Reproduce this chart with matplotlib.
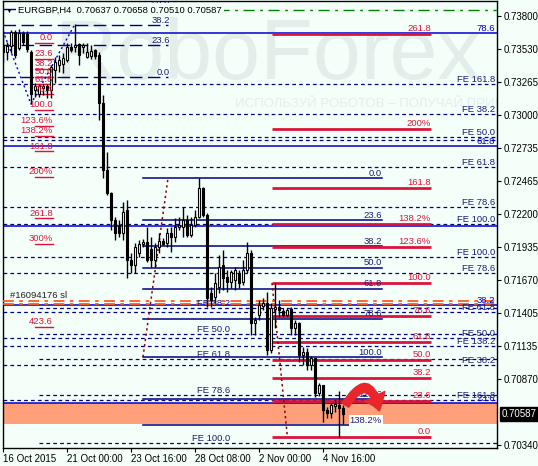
import matplotlib
matplotlib.use('Agg')
import matplotlib.pyplot as plt
from matplotlib.patches import Rectangle, FancyArrowPatch
import matplotlib.transforms as mtransforms

# ---------------- data ----------------
opens = [0.73566,0.73509,0.73558,0.73671,0.73542,0.73663,0.73655,0.73509,0.73203,0.73170,
         0.73219,0.73235,0.73203,0.73364,0.73404,0.73413,0.73445,0.73550,0.73550,0.73574,
         0.73550,0.73469,0.73477,0.73525,0.73485,0.73098,0.72557,0.72371,0.72154,0.72113,
         0.72049,0.72234,0.71831,0.71790,0.71887,0.71960,0.71976,0.71920,0.71831,0.71936,
         0.71984,0.71968,0.72049,0.72016,0.72097,0.72097,0.72154,0.72033,0.72113,0.72178,
         0.72412,0.72194,0.71565,0.71532,0.71613,0.71790,0.71694,0.71653,0.71669,0.71726,
         0.71653,0.71750,0.71887,0.71322,0.71387,0.71460,0.71484,0.71104,0.71435,0.71451,
         0.71419,0.71387,0.71435,0.71282,0.71322,0.71064,0.71088,0.70983,0.71040,0.70757,
         0.70822,0.70620,0.70596,0.70652,0.70660,0.70637]
highs = [0.73679,0.73590,0.73687,0.73687,0.73695,0.73679,0.73679,0.73525,0.73259,0.73251,
         0.73251,0.73251,0.73404,0.73469,0.73485,0.73501,0.73582,0.73582,0.73735,0.73582,
         0.73582,0.73582,0.73566,0.73534,0.73509,0.73162,0.72702,0.72379,0.72178,0.72154,
         0.72299,0.72315,0.71887,0.71968,0.71992,0.72000,0.72097,0.72016,0.71968,0.72049,
         0.72008,0.72089,0.72097,0.72170,0.72178,0.72258,0.72194,0.72178,0.72234,0.72492,
         0.72420,0.72210,0.71613,0.71726,0.71871,0.71912,0.71750,0.71750,0.71774,0.71750,
         0.71831,0.71976,0.71912,0.71371,0.71508,0.71524,0.71573,0.71484,0.71645,0.71508,
         0.71443,0.71443,0.71451,0.71346,0.71330,0.71129,0.71121,0.71056,0.71040,0.70838,
         0.70822,0.70644,0.70677,0.70701,0.70773,0.70658]
lows = [0.73429,0.73445,0.73501,0.73461,0.73525,0.73566,0.73509,0.73090,0.73146,0.73146,
        0.73162,0.73138,0.73138,0.73259,0.73348,0.73340,0.73429,0.73509,0.73509,0.73404,
        0.73501,0.73461,0.73453,0.73453,0.72961,0.72492,0.72355,0.72073,0.71992,0.72016,
        0.71992,0.71686,0.71726,0.71726,0.71855,0.71936,0.71815,0.71774,0.71774,0.71887,
        0.71952,0.71936,0.71895,0.71976,0.72073,0.72016,0.72016,0.72016,0.72097,0.72170,
        0.72178,0.71451,0.71451,0.71484,0.71565,0.71589,0.71573,0.71605,0.71589,0.71605,
        0.71629,0.71726,0.71225,0.71225,0.71346,0.71427,0.71064,0.71080,0.71282,0.71371,
        0.71371,0.71371,0.71225,0.71225,0.71007,0.70983,0.70943,0.70943,0.70725,0.70733,
        0.70523,0.70555,0.70555,0.70604,0.70402,0.70510]
closes = [0.73509,0.73558,0.73671,0.73485,0.73663,0.73590,0.73534,0.73170,0.73235,0.73235,
          0.73235,0.73203,0.73388,0.73429,0.73445,0.73461,0.73550,0.73525,0.73566,0.73485,
          0.73566,0.73509,0.73517,0.73477,0.73098,0.72557,0.72371,0.72154,0.72049,0.72049,
          0.72218,0.71831,0.71790,0.71936,0.71960,0.71976,0.71831,0.71831,0.71936,0.71984,
          0.71960,0.72049,0.72016,0.72097,0.72113,0.72154,0.72033,0.72113,0.72178,0.72412,
          0.72194,0.71524,0.71508,0.71645,0.71774,0.71686,0.71653,0.71734,0.71750,0.71645,
          0.71750,0.71887,0.71322,0.71346,0.71468,0.71484,0.71104,0.71443,0.71451,0.71427,
          0.71387,0.71427,0.71282,0.71322,0.71064,0.71088,0.70983,0.71040,0.70757,0.70822,
          0.70620,0.70596,0.70660,0.70668,0.70636,0.70587]

x_tick_bars = [0, 16, 32, 48, 64, 80]
x_tick_labels = ['16 Oct 2015', '21 Oct 00:00', '23 Oct 16:00', '28 Oct 08:00', '2 Nov 00:00', '4 Nov 16:00']
price_ticks = [0.73800, 0.73530, 0.73265, 0.73000, 0.72735, 0.72465, 0.72200, 0.71935,
               0.71670, 0.71405, 0.71135, 0.70870, 0.70340]
last_price = 0.70587
title = 'EURGBP,H4  0.70637 0.70658 0.70510 0.70587'

# Fibonacci tool 1 (small red expansion, upper left)
fib1_p0, fib1_p100 = 0.73582, 0.73041
fib1_levels = [0, 23.6, 38.2, 50, 61.8, 76.4, 100, 123.6, 138.2, 161.8, 200, 261.8, 300, 423.6]
fib1_labels = ['0.0', '23.6', '38.2', '50.0', '61.8', '76.4', '100.0', '123.6%', '138.2%',
               '161.8', '200%', '261.8', '300%', '423.6']
fib1_path_bars = [0, 7, 18]
fib1_path_prices = [0.73679, 0.73090, 0.73735]

# Fibonacci tool 2 (blue, middle)
fib2_p0, fib2_p100 = 0.72492, 0.71048
fib2_levels = [0, 23.6, 38.2, 50, 61.8, 78.6, 100, 123.6, 138.2]
fib2_labels = ['0.0', '23.6', '38.2', '50.0', '61.8', '78.6', '100.0', '123.6', '138.2%']
fib2_path_bars = [35, 41.25]

# Fibonacci tool 3 (red, right)
fib3_p0, fib3_p100 = 0.70402, 0.71645
fib3_levels = [0, 23.6, 38.2, 50, 61.8, 78.6, 100, 123.6, 138.2, 161.8, 200, 261.8]
fib3_labels = ['0.0', '23.6', '38.2', '50.0', '61.8', '78.6', '100.0', '123.6%', '138.2%',
               '161.8', '200%', '261.8']
fib3_path_bars = [67.25, 71.1]

# Fibonacci tool 4 (wide blue retracement); the 50.0 label sits hidden under "FE 100.0"
fib4_p0, fib4_p100 = 0.69393, 0.74825
fib4_levels = [23.6, 38.2, 50, 61.8, 78.6]
fib4_labels = ['23.6', '38.2', '', '61.8', '78.6']

# Fibonacci tool 5 (long-dash retracement, upper left)
fib5_p0, fib5_p100 = 0.73308, 0.74402
fib5_levels = [0, 23.6, 38.2, 50]
fib5_labels = ['0.0', '23.6', '38.2', '50.0']

# Fibonacci expansion lines, labels on the right
fe_right_prices = [0.73251, 0.73009, 0.72823, 0.72799, 0.72581, 0.72258, 0.72121,
                   0.71855, 0.71726, 0.71411, 0.71201, 0.71137, 0.70983, 0.70701]
fe_right_labels = ['FE 161.8', 'FE 38.2', 'FE 50.0', '', 'FE 61.8', 'FE 78.6', 'FE 100.0',
                   'FE 100.0', 'FE 78.6', 'FE 61.8', 'FE 50.0', 'FE 138.2', 'FE 38.2', 'FE 161.8']
# Fibonacci expansion lines, labels in the middle
fe_mid_prices = [0.71443, 0.71234, 0.71032, 0.70741, 0.70354]
fe_mid_labels = ['FE 38.2', 'FE 50.0', 'FE 61.8', 'FE 78.6', 'FE 100.0']

sl_prices = [0.71500, 0.71476]
sl_label = '#16094176 sl'
tp_price = 0.73848
zone_low, zone_high = 0.70507, 0.70677

# ---------------- style ----------------
BG = '#F5FFFA'
NAVY = '#000080'
NAVY_T = '#1C1C78'
BLUE = '#0000CD'
RED = '#DC143C'
FS = 6.8
FONT = 'Liberation Sans'
plt.rcParams['font.family'] = [FONT, 'DejaVu Sans']

W, H = 538, 466
fig = plt.figure(figsize=(W / 100, H / 100), dpi=100, facecolor=BG)
L, R, T, B = 3, 497, 1, 448
ax = fig.add_axes([L / W, (H - B) / H, (R - L) / W, (B - T) / H], facecolor=BG)
XMAX = (R - L) / 4.0
ax.set_xlim(0, XMAX)
ax.set_ylim(0.703135, 0.739209)

def px2bar(px):
    return (px - L) / 4.0

# watermark
ax.text(px2bar(268), 0.73929 - 57 * 0.0000807, 'RoboForex', fontsize=62, color='#E3EEEB',
        ha='center', va='center', zorder=0, family=FONT)
ax.text(px2bar(235), 0.73929 - 104 * 0.0000807, 'ИСПОЛЬЗУЙ РОБОТОВ – ПОЛУЧАЙ ПРИБЫЛЬ',
        fontsize=9.5, color='#E3EEEB', ha='left', va='center', zorder=0, family=FONT, clip_on=True)

def lab(x, p, s, color, dy=0.3, ha='right', fs=FS, bbox=None, z=8):
    if not s:
        return
    ax.annotate(s, (x, p), xytext=(0, dy), textcoords='offset points', ha=ha, va='bottom',
                color=color, fontsize=fs, zorder=z, annotation_clip=False, bbox=bbox)

# zone rectangle
ax.add_patch(Rectangle((0, zone_low), XMAX, zone_high - zone_low, facecolor='#FFA07A',
                       edgecolor='none', zorder=1))

# tool 5: long-dash
for lv, s in zip(fib5_levels, fib5_labels):
    p = fib5_p0 + (fib5_p100 - fib5_p0) * lv / 100
    ax.plot([0, px2bar(168)], [p, p], color=NAVY, lw=1.0, ls=(0, (9, 4)), zorder=2)
    lab(px2bar(170), p, s, NAVY_T, z=4)

# FE dashed lines
for p, s in zip(fe_right_prices, fe_right_labels):
    ax.plot([0, XMAX], [p, p], color=NAVY, lw=0.9, ls=(0, (3, 2.5)), zorder=2)
    lab(px2bar(495), p, s, NAVY_T, z=8)
for p, s in zip(fe_mid_prices, fe_mid_labels):
    ax.plot([px2bar(39), XMAX], [p, p], color=NAVY, lw=0.9, ls=(0, (3, 2.5)), zorder=2)
    lab(px2bar(230), p, s, NAVY_T)

# tool 4 wide blue
for lv, s in zip(fib4_levels, fib4_labels):
    p = fib4_p0 + (fib4_p100 - fib4_p0) * lv / 100
    ax.plot([0, XMAX], [p, p], color=BLUE, lw=1.1, zorder=2)
    lab(px2bar(495), p, s, BLUE, z=7)

# tool 2 blue
for lv, s in zip(fib2_levels, fib2_labels):
    p = fib2_p0 + (fib2_p100 - fib2_p0) * lv / 100
    ax.plot([px2bar(143), px2bar(382)], [p, p], color=NAVY, lw=1.1, zorder=3)
    bb = dict(boxstyle='square,pad=0.1', fc='white', ec='none') if s.endswith('%') else None
    lab(px2bar(382), p, s, NAVY_T, bbox=bb)
ax.plot(fib2_path_bars, [fib2_p100, fib2_p0], color='#8B0000', lw=1.1, ls=(0, (1.5, 2)), zorder=3)

# tool 3 red
for lv, s in zip(fib3_levels, fib3_labels):
    p = fib3_p0 + (fib3_p100 - fib3_p0) * lv / 100
    ax.plot([px2bar(272), px2bar(431)], [p, p], color=RED, lw=2.0, zorder=3, solid_capstyle='butt')
    lab(px2bar(431), p, s, RED, dy=0.8)
ax.plot(fib3_path_bars, [fib3_p100, fib3_p0], color='#8B0000', lw=1.1, ls=(0, (1.5, 2)), zorder=3)

# tool 1 red small
for lv, s in zip(fib1_levels, fib1_labels):
    p = fib1_p0 + (fib1_p100 - fib1_p0) * lv / 100
    ax.plot([px2bar(35), px2bar(53)], [p, p], color=RED, lw=1.0, zorder=3)
    lab(px2bar(53), p, s, RED, dy=0.5)
ax.plot(fib1_path_bars, fib1_path_prices, color=BLUE, lw=1.0, ls=(0, (1.5, 2)), zorder=3)

# SL lines
for p in sl_prices:
    ax.plot([0, XMAX], [p, p], color='#FF5A1E', lw=1.3, ls=(0, (6, 3, 2, 3)), zorder=3)
ax.annotate(sl_label, (px2bar(10), sl_prices[0]), xytext=(0, 1), textcoords='offset points',
            ha='left', va='bottom', fontsize=FS, color='#202020', zorder=8)

# TP line
ax.plot([px2bar(218), XMAX], [tp_price, tp_price], color='#008000', lw=1.0,
        ls=(0, (8, 4, 2, 4)), zorder=3)

# candles
for i, (o, h, l, c) in enumerate(zip(opens, highs, lows, closes)):
    ax.plot([i, i], [l, h], color='black', lw=1.0, zorder=5, solid_capstyle='butt')
    bot, top = min(o, c), max(o, c)
    hgt = max(top - bot, 0.000015)
    ax.add_patch(Rectangle((i - 0.34, bot), 0.68, hgt,
                           facecolor='black' if c < o else 'white',
                           edgecolor='black', lw=0.8, zorder=6))

# red arrow
arr = FancyArrowPatch((px2bar(344), 0.70640), (px2bar(380), 0.70590),
                      connectionstyle='arc3,rad=-1.25',
                      arrowstyle='simple,head_length=1.0,head_width=1.5,tail_width=0.5',
                      mutation_scale=11, color='#E8262B', zorder=9)
ax.add_patch(arr)

# axes
for sp in ax.spines.values():
    sp.set_color('black')
    sp.set_linewidth(1.0)
ax.yaxis.tick_right()
ax.set_yticks(price_ticks)
ax.set_yticklabels(['%.5f' % v for v in price_ticks])
ax.set_xticks(x_tick_bars)
ax.set_xticklabels(x_tick_labels, ha='left')
ax.tick_params(axis='y', length=3, width=0.8, pad=2, labelsize=7, colors='black')
ax.tick_params(axis='x', length=3, width=0.8, pad=1.5, labelsize=7, colors='black')
for t in ax.get_xticklabels():
    t.set_horizontalalignment('left')

ax.annotate('%.5f' % last_price, xy=(1.0, last_price),
            xycoords=mtransforms.blended_transform_factory(ax.transAxes, ax.transData),
            xytext=(3.5, 0), textcoords='offset points', ha='left', va='center', fontsize=7,
            color='white', annotation_clip=False, zorder=10,
            bbox=dict(boxstyle='square,pad=0.2', fc='black', ec='black'))

fig.text(18 / W, 1 - 10 / H, title, fontsize=6.8, color='black', va='center', ha='left',
         zorder=20, bbox=dict(boxstyle='square,pad=0.25', fc=BG, ec='none'))
fig.text(9 / W, 1 - 11 / H, '\u25BC', fontsize=5, color='black', va='center', ha='center', zorder=20)

fig.savefig('out.png', dpi=100, facecolor=BG)
